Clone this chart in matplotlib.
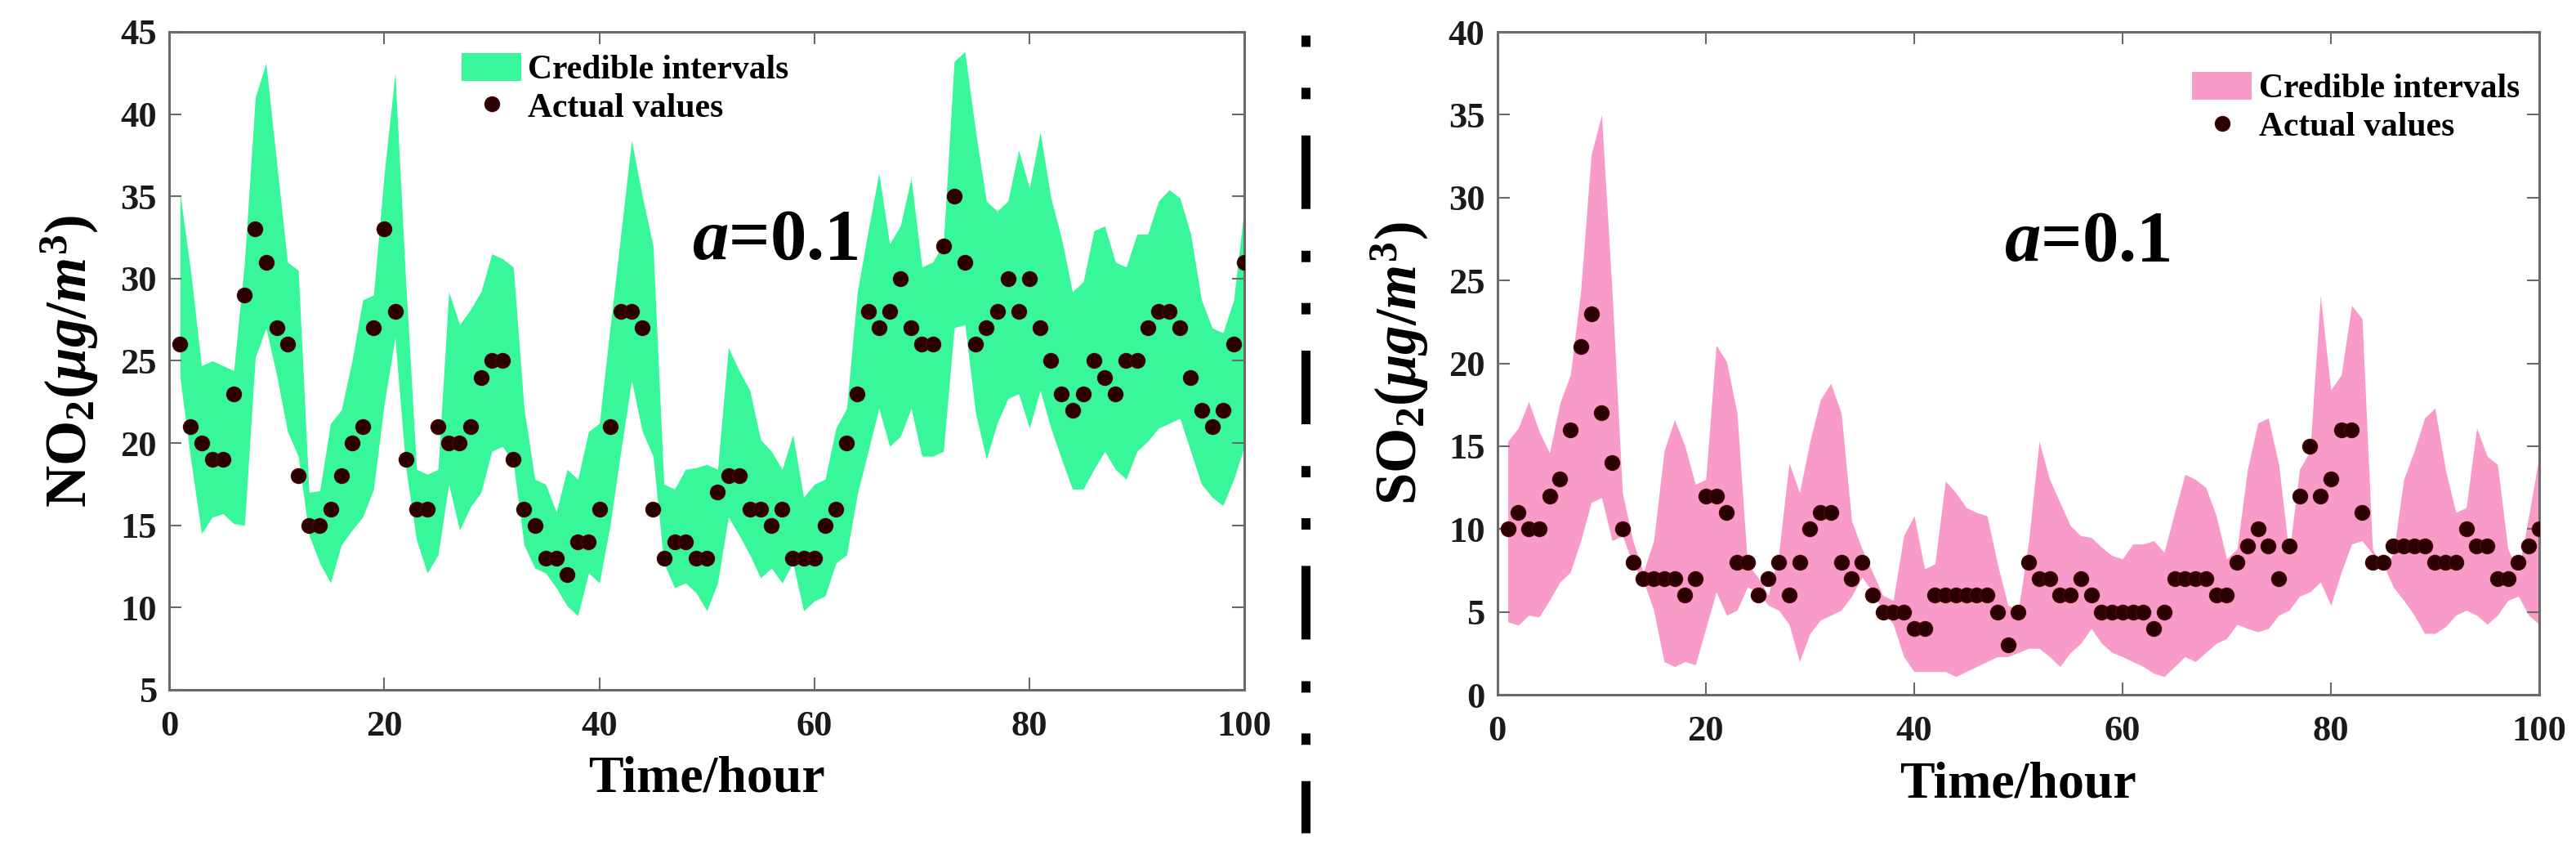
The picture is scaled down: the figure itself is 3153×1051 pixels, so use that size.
import matplotlib
matplotlib.use('Agg')
import matplotlib.pyplot as plt
from matplotlib.lines import Line2D

plt.rcParams['font.family'] = 'Liberation Serif'
plt.rcParams['font.weight'] = 'bold'
plt.rcParams['mathtext.fontset'] = 'custom'
plt.rcParams['mathtext.rm'] = 'Liberation Serif:bold'
plt.rcParams['mathtext.it'] = 'Liberation Serif:italic:bold'
plt.rcParams['mathtext.bf'] = 'Liberation Serif:bold'

# horas 1..100
hours = list(range(1, 101))

# NO2: valores reales e intervalos creibles
no2_actual = [26, 21, 20, 19, 19, 23, 29, 33, 31, 27,
              26, 18, 15, 15, 16, 18, 20, 21, 27, 33,
              28, 19, 16, 16, 21, 20, 20, 21, 24, 25,
              25, 19, 16, 15, 13, 13, 12, 14, 14, 16,
              21, 28, 28, 27, 16, 13, 14, 14, 13, 13,
              17, 18, 18, 16, 16, 15, 16, 13, 13, 13,
              15, 16, 20, 23, 28, 27, 28, 30, 27, 26,
              26, 32, 35, 31, 26, 27, 28, 30, 28, 30,
              27, 25, 23, 22, 23, 25, 24, 23, 25, 25,
              27, 28, 28, 27, 24, 22, 21, 22, 26, 31]
no2_upper = [35.2, 30.4, 24.7, 25, 24.7, 24.4, 31, 41, 43.1, 37,
             31, 30.5, 17, 17.1, 21.2, 22, 25, 28.7, 29, 36.4,
             42.5, 29.8, 18.4, 18.1, 18.4, 29.2, 27.2, 28.1, 29.2, 31.5,
             31.2, 30.7, 22.1, 17.8, 17.5, 15.8, 18.4, 17.8, 20.7, 21.2,
             27, 32.7, 38.4, 35, 32, 17.5, 17.2, 18.4, 18.5, 18.7,
             18.4, 25.8, 24.4, 23.2, 20.2, 19.5, 18.4, 20.5, 16.7, 17.5,
             17.8, 20.9, 22.1, 29.2, 32.9, 36.4, 32.1, 33.2, 36.1, 30.7,
             31, 32.1, 43.2, 43.8, 38.9, 34.7, 34.1, 34.7, 37.8, 35.5,
             38.9, 34.9, 32.4, 29.2, 29.8, 32.9, 33.2, 31, 30.7, 32.7,
             32.7, 34.7, 35.4, 34.9, 32.7, 28.7, 27, 26.7, 28.7, 34.4]
no2_lower = [24, 19, 14.5, 15.5, 15.7, 15.1, 15, 25.2, 27, 24.1,
             20.7, 19.2, 14.4, 12.7, 11.5, 13.8, 14.7, 15.5, 17.2, 22.4,
             26.4, 18.5, 14.1, 12.1, 13.2, 17.5, 14.7, 16.1, 17, 19.5,
             19.8, 18.8, 13.8, 12.4, 12.1, 11.2, 10.1, 9.5, 12.1, 11.5,
             15, 19.5, 23.8, 20.7, 19.2, 12.7, 11.2, 11.5, 10.9, 9.8,
             11.5, 15.5, 14.4, 13.2, 11.8, 12.4, 11.5, 12.7, 9.8, 10.4,
             10.7, 12.7, 13.2, 16.9, 19.5, 22.1, 19.8, 20.4, 22.1, 19.2,
             19.2, 19.5, 27, 27.2, 21.8, 19, 21.2, 22.7, 23, 20.9,
             23.2, 20.9, 19, 17.2, 17.2, 18.4, 19.5, 18.4, 17.8, 19.5,
             20.1, 20.9, 21.2, 21.5, 19.5, 17.5, 16.7, 16.2, 17.8, 19.8]

# SO2: valores reales e intervalos creibles
so2_actual = [10, 11, 10, 10, 12, 13, 16, 21, 23, 17,
              14, 10, 8, 7, 7, 7, 7, 6, 7, 12,
              12, 11, 8, 8, 6, 7, 8, 6, 8, 10,
              11, 11, 8, 7, 8, 6, 5, 5, 5, 4,
              4, 6, 6, 6, 6, 6, 6, 5, 3, 5,
              8, 7, 7, 6, 6, 7, 6, 5, 5, 5,
              5, 5, 4, 5, 7, 7, 7, 7, 6, 6,
              8, 9, 10, 9, 7, 9, 12, 15, 12, 13,
              16, 16, 11, 8, 8, 9, 9, 9, 9, 8,
              8, 8, 10, 9, 9, 7, 7, 8, 9, 10]
so2_upper = [15.3, 16.1, 17.7, 15.9, 14.6, 17.6, 19.3, 24.4, 32.6, 35,
             24.4, 12.2, 9.3, 7.4, 9.3, 14.7, 16.6, 15, 12.7, 13,
             21.1, 20.1, 17, 7.9, 7.1, 6, 8.5, 14, 12.2, 15.3,
             17.8, 18.8, 17, 10.5, 8.8, 7.4, 6, 5.7, 9.6, 10.8,
             7.6, 7.9, 12.9, 12.2, 11.3, 11, 10.8, 7.9, 5.4, 5.1,
             9.3, 15.3, 13, 11.6, 10.2, 9.6, 9.5, 8.9, 8.4, 8.2,
             9.1, 9.1, 9.3, 8.6, 11, 13.3, 13, 12.5, 10.8, 8.2,
             8.8, 13.6, 16.4, 16.7, 13.9, 8.5, 13.6, 14.7, 24.1, 18.4,
             19.3, 23.5, 22.7, 8.8, 7.6, 8.5, 13, 14.7, 16.7, 17.3,
             13.6, 11, 11.3, 16.1, 14.4, 13.9, 8.8, 7.4, 10.8, 14.4]
so2_lower = [4.4, 4.2, 4.8, 4.7, 5.7, 6.8, 7.4, 9.3, 11.6, 11.9,
             9.3, 9.6, 7.9, 6.9, 5.1, 2.0, 1.7, 2.0, 1.8, 4.0,
             6.2, 4.8, 5.1, 6.5, 6.2, 5.4, 5.1, 4.25, 2.0, 3.7,
             4.5, 4.8, 5.1, 5.95, 7.1, 6.2, 5.1, 4.25, 2.3, 1.4,
             1.4, 1.4, 1.4, 1.1, 1.4, 1.7, 2.0, 2.3, 2.3, 2.55,
             2.8, 2.8, 2.3, 1.7, 2.55, 3.1, 4.0, 3.1, 2.55, 2.3,
             2.0, 1.7, 1.3, 1.1, 1.7, 2.3, 2.0, 2.55, 3.1, 3.4,
             4.25, 4.0, 3.8, 4.0, 4.8, 5.1, 5.95, 6.2, 6.8, 5.4,
             7.4, 9.1, 9.3, 8.5, 7.9, 6.5, 5.7, 4.8, 3.7, 3.7,
             4.1, 4.8, 5.1, 4.8, 4.25, 4.8, 5.7, 5.95, 4.8, 4.25]

x_ticks = [0, 20, 40, 60, 80, 100]
no2_yticks = [5, 10, 15, 20, 25, 30, 35, 40, 45]
so2_yticks = [0, 5, 10, 15, 20, 25, 30, 35, 40]

fig = plt.figure(figsize=(31.53, 10.51), dpi=100)
ax1 = fig.add_axes([0.0657, 0.197, 0.4174, 0.766])
ax2 = fig.add_axes([0.5813, 0.1912, 0.4044, 0.7716])


def dibujar(ax, actual, lower, upper, color, yticks, ylabel, leg_pos):
    band = ax.fill_between(hours, lower, upper, color=color, linewidth=0,
                           label='Credible intervals', zorder=1)
    dots, = ax.plot(hours, actual, 'o', markersize=13, markerfacecolor='#2a0000',
                    markeredgecolor='#4a0808', markeredgewidth=1,
                    label='Actual values', zorder=3)
    ax.set_xlim(0, 100)
    ax.set_ylim(yticks[0], yticks[-1])
    ax.set_xticks(x_ticks)
    ax.set_yticks(yticks)
    ax.tick_params(direction='in', length=11, width=1.5, top=True, right=True,
                   labelsize=32, colors='#6a6a6a', labelcolor='#1a1a1a')
    ax.tick_params(axis='x', pad=18)
    ax.tick_params(axis='y', pad=11)
    for s in ax.spines.values():
        s.set_color('#6a6a6a')
        s.set_linewidth(2.2)
    ax.set_xlabel('Time/hour', fontsize=46, fontweight='bold')
    ax.xaxis.set_label_coords(0.5, -0.1)
    ax.set_ylabel(ylabel, fontsize=51, fontweight='bold')
    ax.yaxis.set_label_coords(-0.064, 0.5)
    ax.text(0.486, 0.655, r'$a$=0.1', transform=ax.transAxes, fontsize=64,
            fontweight='bold', ha='left', va='baseline')
    ax.legend(handles=[band, dots], loc='upper left', bbox_to_anchor=leg_pos,
              frameon=False, fontsize=30, borderpad=0, handlelength=1.75,
              handleheight=0.9, handletextpad=0.2, labelspacing=0.15,
              borderaxespad=0)


dibujar(ax1, no2_actual, no2_lower, no2_upper, '#38F79B', no2_yticks,
        r'NO$_{\mathrm{2}}$($\mu g/m^{3}$)', (0.272, 0.968))
dibujar(ax2, so2_actual, so2_lower, so2_upper, '#F99BC8', so2_yticks,
        r'SO$_{\mathrm{2}}$($\mu g/m^{3}$)', (0.667, 0.94))

# linea divisoria entre paneles
fig.add_artist(Line2D([0.5068, 0.5068], [0.959, 0.03], transform=fig.transFigure,
                      color='black', linewidth=8,
                      linestyle=(0, (1.25, 4.5, 1.25, 4.0, 8.1, 4.6))))

fig.savefig('out.png', dpi=100)
